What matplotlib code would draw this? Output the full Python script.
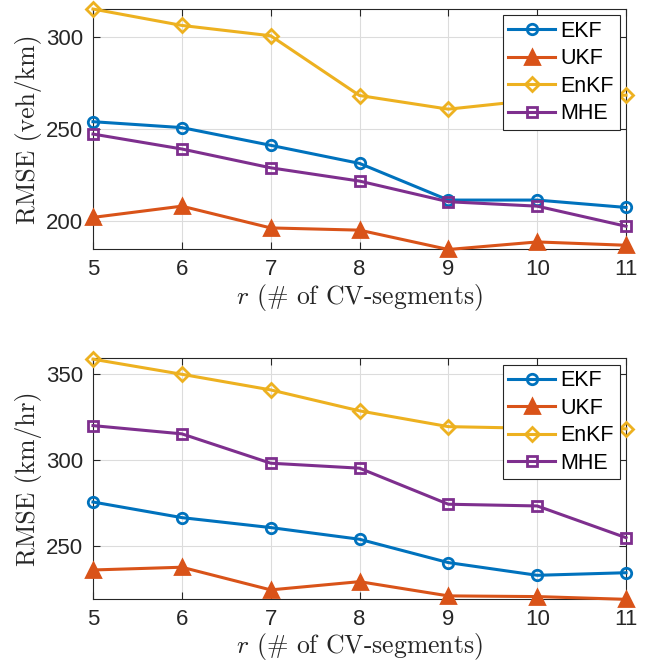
import matplotlib
matplotlib.use("Agg")
import matplotlib.pyplot as plt

# number of CV segments
r_vals = [5, 6, 7, 8, 9, 10, 11]

# density RMSE (veh/km)
ekf_rho = [254.1, 250.9, 241.3, 231.5, 211.6, 211.6, 207.6]
ukf_rho = [202.2, 208.3, 196.5, 195.3, 184.8, 188.9, 187.1]
enkf_rho = [315.2, 306.3, 300.7, 268.3, 260.9, 266.0, 268.5]
mhe_rho = [247.4, 239.3, 229.1, 221.9, 210.7, 208.3, 197.4]

# speed RMSE (km/hr)
ekf_v = [275.6, 266.5, 260.7, 253.9, 240.3, 232.9, 234.4]
ukf_v = [236.0, 237.6, 224.4, 229.2, 220.9, 220.5, 218.9]
enkf_v = [358.8, 350.0, 340.9, 328.7, 319.5, 318.5, 318.2]
mhe_v = [320.1, 315.3, 298.2, 295.3, 274.3, 273.3, 254.8]

names = ["EKF", "UKF", "EnKF", "MHE"]
colors = ["#0072BD", "#D95319", "#EDB120", "#7E2F8E"]
markers = ["o", "^", "D", "s"]
msizes = [7.5, 9.5, 7, 6.5]
faces = ["none", "#D95319", "none", "none"]

plt.rcParams["mathtext.fontset"] = "cm"
plt.rcParams["axes.unicode_minus"] = False

fig = plt.figure(figsize=(6.53, 6.68), dpi=100)
ax1 = fig.add_axes([0.1424, 0.6265, 0.8163, 0.36])
ax2 = fig.add_axes([0.1424, 0.1028, 0.8163, 0.3608])


def draw(ax, series, ylabel, ylim, yticks):
    for s, name, c, m, ms, fc in zip(series, names, colors, markers, msizes, faces):
        ax.plot(r_vals, s, color=c, lw=2.2, marker=m, ms=ms, mfc=fc, mew=2,
                label=name, clip_on=False, zorder=3)
    ax.set_xlim(5, 11)
    ax.set_ylim(*ylim)
    ax.set_xticks(r_vals)
    ax.set_yticks(yticks)
    ax.grid(True, color="#dcdcdc", lw=0.8)
    ax.set_axisbelow(True)
    ax.tick_params(direction="in", top=True, right=True, length=5,
                   labelsize=16, colors="#262626", pad=7)
    for t in ax.get_xticklabels() + ax.get_yticklabels():
        t.set_fontfamily("Liberation Sans")
    for sp in ax.spines.values():
        sp.set_color("#262626")
        sp.set_linewidth(0.8)
    ax.set_ylabel(ylabel, fontfamily="cmr10", fontsize=18.5, color="#262626", labelpad=3)
    ax.set_xlabel("$r$ (# of CV-segments)", fontfamily="cmr10", fontsize=18.5,
                  color="#262626", labelpad=1)
    leg = ax.legend(loc="upper right", fancybox=False, framealpha=1,
                    edgecolor="#262626", prop={"family": "Liberation Sans", "size": 15.5},
                    handlelength=2.2, handletextpad=0.25, borderpad=0.25,
                    labelspacing=0.3, borderaxespad=0.3)
    leg.get_frame().set_linewidth(0.8)
    leg.set_zorder(5)


draw(ax1, [ekf_rho, ukf_rho, enkf_rho, mhe_rho], "RMSE (veh/km)",
     (184.8, 315.2), [200, 250, 300])
draw(ax2, [ekf_v, ukf_v, enkf_v, mhe_v], "RMSE (km/hr)",
     (218.9, 359.3), [250, 300, 350])

fig.savefig("out.png", dpi=100)
